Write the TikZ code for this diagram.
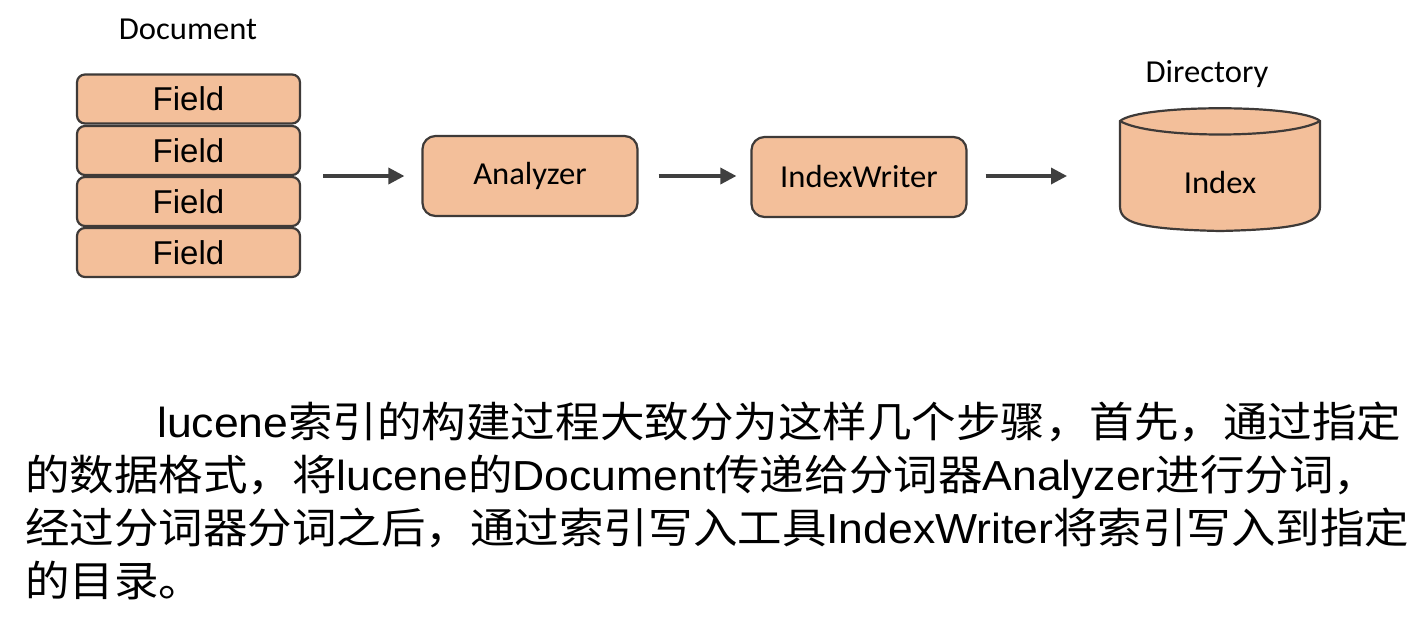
\documentclass[tikz,border=0pt]{standalone}
\usepackage{fontspec}
\setmainfont{Liberation Sans}
\newfontfamily\calfont[FakeStretch=1.02]{Carlito}
\newfontfamily\cjkfont[FakeStretch=1.06]{Noto Sans CJK SC}
\newfontfamily\latfont[FakeStretch=1.06]{Liberation Sans}
\newcommand\latw[1]{{\latfont #1}}
\usetikzlibrary{arrows.meta}
\definecolor{peach}{HTML}{F3BF9A}
\definecolor{edge}{HTML}{3E3A38}
\definecolor{arr}{HTML}{3F3F3F}
\tikzset{
  fieldbox/.style={draw=edge, fill=peach, line width=2.2pt, rounded corners=8pt,
    minimum width=223pt, minimum height=49pt, inner sep=0pt,
    font=\fontsize{33}{33}\selectfont},
  procbox/.style={draw=edge, fill=peach, line width=2.2pt, rounded corners=13pt,
    minimum width=215pt, minimum height=80pt, inner sep=0pt,
    font=\calfont\fontsize{32}{32}\selectfont},
  lbl/.style={inner sep=0pt, font=\calfont\fontsize{32}{32}\selectfont},
  flow/.style={draw=arr, line width=3.4pt, -{Triangle[length=16pt,width=16pt]}},
  para/.style={inner sep=0pt, anchor=base west, font=\cjkfont\fontsize{42}{42}\selectfont}
}
\begin{document}
\begin{tikzpicture}[x=1pt,y=-1pt]
\useasboundingbox (0,0) rectangle (1416,622);
% Document stack
\node[lbl] (doclbl) at (188,29) {Document};
\node[fieldbox] (f1) at (188.5,99) {Field};
\node[fieldbox] (f2) at (188.5,150.5) {Field};
\node[fieldbox] (f3) at (188.5,201.5) {Field};
\node[fieldbox] (f4) at (188.5,252.5) {Field};
\coordinate (docout) at (323,176);
% process boxes
\node[procbox] (ana) at (530,176) {Analyzer};
\node[procbox] (iw) at (859,177) {IndexWriter};
% Directory cylinder
\node[lbl] (dirlbl) at (1207,74) {Directory};
\draw[draw=edge, fill=peach, line width=2.2pt]
  (1120,121) -- (1120,206)
  .. controls (1120,222) and (1135,229) .. (1220,231)
  .. controls (1305,229) and (1320,222) .. (1320,206)
  -- (1320,121)
  .. controls (1300,104) and (1140,104) .. (1120,121) -- cycle;
\draw[draw=edge, line width=2.2pt]
  (1120,121) .. controls (1150,139) and (1290,139) .. (1320,121);
\node[lbl] (idx) at (1220,182) {Index};
\coordinate (cylin) at (1067,176);
% arrows
\draw[flow] (docout) -- ([xshift=-17pt]ana.west);
\draw[flow] ([xshift=20pt]ana.east) -- ([xshift=-14pt]iw.west |- ana.east);
\draw[flow] ([xshift=18pt]iw.east |- ana.east) -- (cylin);
% paragraph
\node[para] (l1) at (157,437) {\latw{lucene}索引的构建过程大致分为这样几个步骤，首先，通过指定};
\node[para] (l2) at (25,490) {的数据格式，将\latw{lucene}的\latw{Document}传递给分词器\latw{Analyzer}进行分词，};
\node[para] (l3) at (25,543) {经过分词器分词之后，通过索引写入工具\latw{IndexWriter}将索引写入到指定};
\node[para] (l4) at (25,596) {的目录。};
\end{tikzpicture}
\end{document}
